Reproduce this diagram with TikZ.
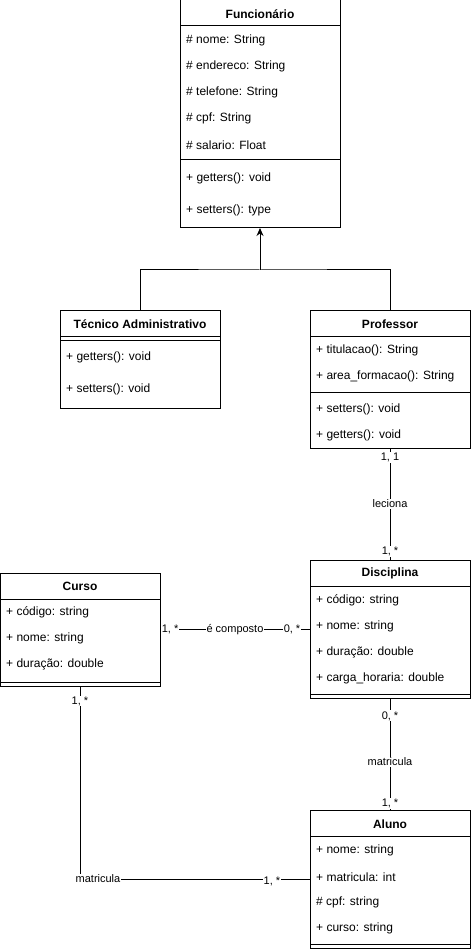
\documentclass[tikz,border=0pt]{standalone}
\usepackage{fontspec}
\setmainfont{Liberation Sans}
\usetikzlibrary{arrows.meta}
\begin{document}
\begin{tikzpicture}[x=1pt,y=-1pt,
  box/.style={draw, line width=1pt, rectangle, inner sep=0pt, outer sep=0pt, anchor=north west, minimum width=160pt},
  hdr/.style={font=\fontsize{12}{14}\selectfont\bfseries, inner sep=0pt, yshift=-0.8pt},
  attr/.style={font=\fontsize{12}{14}\selectfont, anchor=west, inner sep=0pt, yshift=-0.8pt},
  lbl/.style={font=\fontsize{11}{13}\selectfont, fill=white, inner sep=1pt},
  sep/.style={line width=1pt},
  conn/.style={line width=1pt}]
\fill[white] (0,0) rectangle (471,949);
\useasboundingbox (0,0) rectangle (471,949);

% Funcionario
\node[box, minimum height=228pt] (func) at (180,0) {};
\draw[sep] (180,26) -- (340,26);
\draw[sep] (180,160) -- (340,160);
\node[hdr] (fT) at (260,13) {Funcionário};
\node[attr] (f1) at (186,40) {\# nome: String};
\node[attr] (f2) at (186,66) {\# endereco: String};
\node[attr] (f3) at (186,92) {\# telefone: String};
\node[attr] (f4) at (186,118) {\# cpf: String};
\node[attr] (f5) at (186,144) {\# salario: Float};
\node[attr] (f6) at (186,178) {+ getters(): void};
\node[attr] (f7) at (186,210) {+ setters(): type};

% Tecnico
\node[box, minimum height=98pt] (tec) at (60,310) {};
\draw[sep] (60,336) -- (220,336);
\draw[sep] (60,340) -- (220,340);
\node[hdr] (tT) at (140,323) {Técnico Administrativo};
\node[attr] (t1) at (66,357) {+ getters(): void};
\node[attr] (t2) at (66,389) {+ setters(): void};

% Professor
\node[box, minimum height=138pt] (prof) at (310,310) {};
\draw[sep] (310,336) -- (470,336);
\draw[sep] (310,392) -- (470,392);
\node[hdr] (pT) at (390,323) {Professor};
\node[attr] (p1) at (316,350) {+ titulacao(): String};
\node[attr] (p2) at (316,376) {+ area\_formacao(): String};
\node[attr] (p3) at (316,409) {+ setters(): void};
\node[attr] (p4) at (316,435) {+ getters(): void};

% Disciplina
\node[box, minimum height=138pt] (disc) at (310,560) {};
\draw[sep] (310,586) -- (470,586);
\draw[sep] (310,694) -- (470,694);
\node[hdr] (dT) at (390,573) {Disciplina};
\node[attr] (d1) at (316,600) {+ código: string};
\node[attr] (d2) at (316,626) {+ nome: string};
\node[attr] (d3) at (316,652) {+ duração: double};
\node[attr] (d4) at (316,678) {+ carga\_horaria: double};

% Curso
\node[box, minimum height=113pt, minimum width=159.5pt] (curso) at (0.5,573) {};
\draw[sep] (0.5,599) -- (160,599);
\draw[sep] (0.5,682) -- (160,682);
\node[hdr] (cT) at (80,586) {Curso};
\node[attr] (c1) at (6,612) {+ código: string};
\node[attr] (c2) at (6,638) {+ nome: string};
\node[attr] (c3) at (6,664) {+ duração: double};

% Aluno
\node[box, minimum height=138pt] (aluno) at (310,810) {};
\draw[sep] (310,836) -- (470,836);
\draw[sep] (310,944) -- (470,944);
\node[hdr] (aT) at (390,823) {Aluno};
\node[attr] (a1) at (316,850) {+ nome: string};
\node[attr] (a2) at (316,876) {+ matricula: int};
\node[attr] (a3) at (316,902) {\# cpf: string};
\node[attr] (a4) at (316,928) {+ curso: string};

% Generalization
\coordinate (j) at (260,270);
\draw[conn] (tec.north) |- (j) -| (prof.north);
\draw[conn,-{Stealth[length=8pt,width=7pt]}] (j) -- (func.south);

% Professor - Disciplina
\draw[conn] (prof.south) -- (disc.north)
  node[lbl, pos=0.085] (l1) {1, 1}
  node[lbl, pos=0.5] (l2) {leciona}
  node[lbl, pos=0.92] (l3) {1, *};

% Curso - Disciplina
\draw[conn] (curso.east) -- (curso.east -| disc.west)
  node[lbl, pos=0.067] (l4) {1, *}
  node[lbl, pos=0.5] (l5) {é composto}
  node[lbl, pos=0.88] (l6) {0, *};

% Disciplina - Aluno
\draw[conn] (disc.south) -- (aluno.north)
  node[lbl, pos=0.16] (l7) {0, *}
  node[lbl, pos=0.57] (l8) {matricula}
  node[lbl, pos=0.94] (l9) {1, *};

% Curso - Aluno
\draw[conn] (curso.south) |- (aluno.west);
\node[lbl] (l10) at (80,701) {1, *};
\node[lbl] (l11) at (98,879) {matricula};
\node[lbl] (l12) at (272,881) {1, *};
\end{tikzpicture}
\end{document}
